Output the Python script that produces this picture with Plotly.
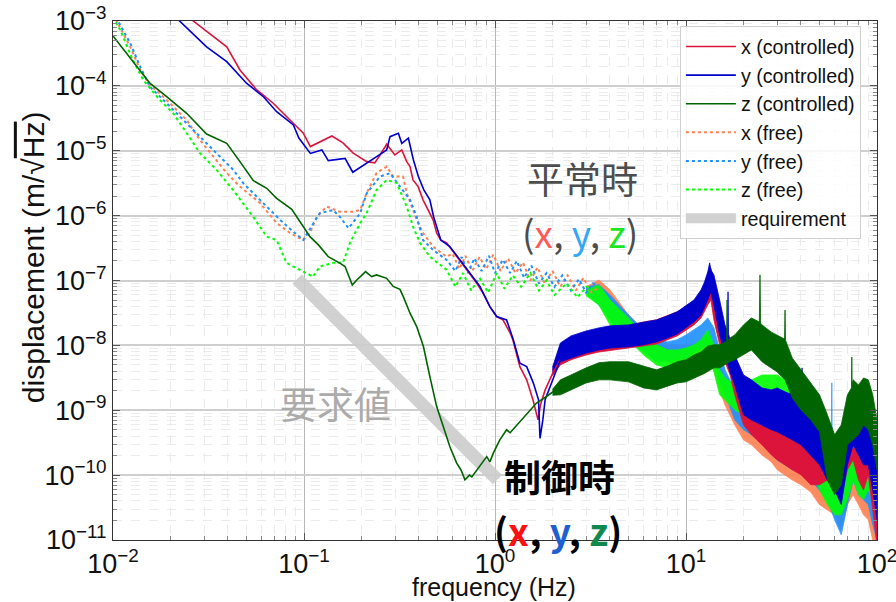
import plotly.graph_objects as go

# ---------------- data (frequency in Hz, displacement in m/sqrt(Hz)) ----------------
# controlled, x
xc_f = [0.02, 0.0263, 0.0394, 0.0462, 0.0566, 0.0688, 0.0876, 0.099, 0.108, 0.121, 0.140, 0.160,
        0.181, 0.213, 0.235, 0.25, 0.271, 0.299, 0.325, 0.345, 0.359, 0.372, 0.396, 0.42, 0.446,
        0.474, 0.495, 0.52, 0.558, 0.63, 0.71, 0.80, 0.865, 0.94, 1.02, 1.10, 1.20, 1.24, 1.35,
        1.465, 1.58, 1.68, 1.73, 1.83, 2.01, 2.19]
xc_v = [2.3e-3, 1.0e-3, 4.0e-4, 1.76e-4, 8.65e-5, 5.45e-5, 2.68e-5, 1.88e-5, 1.16e-5, 1.38e-5,
        1.69e-5, 1.32e-5, 9.2e-6, 6.8e-6, 6.5e-6, 8.6e-6, 1.26e-5, 8.6e-6, 1.03e-5, 6.8e-6, 5.7e-6,
        3.55e-6, 2.8e-6, 1.75e-6, 1.22e-6, 8.6e-7, 5.4e-7, 4.2e-7, 3.8e-7, 2.33e-7, 1.46e-7, 9.2e-8,
        6.4e-8, 3.96e-8, 2.78e-8, 2.47e-8, 1.56e-8, 1.22e-8, 4.7e-9, 2.94e-9, 1.45e-9, 7.1e-10,
        1.21e-9, 2.06e-9, 3.77e-9, 6.0e-9]
# controlled, y
yc_f = [0.0166, 0.0224, 0.0309, 0.0394, 0.050, 0.0613, 0.0719, 0.088, 0.094, 0.108, 0.124, 0.134,
        0.164, 0.180, 0.213, 0.24, 0.271, 0.282, 0.312, 0.325, 0.352, 0.374, 0.397, 0.424, 0.456,
        0.477, 0.52, 0.58, 0.656, 0.74, 0.834, 0.94, 1.02, 1.15, 1.247, 1.35, 1.465, 1.59, 1.69,
        1.72, 1.78, 1.83, 2.1, 2.25]
yc_v = [2.3e-3, 1.0e-3, 4.0e-4, 2.36e-4, 1.1e-4, 6.8e-5, 4.0e-5, 2.5e-5, 1.57e-5, 9.1e-6, 1.03e-5,
        7.05e-6, 7.6e-6, 4.66e-6, 6.55e-6, 8.1e-6, 1.03e-5, 1.65e-5, 1.86e-5, 1.3e-5, 1.56e-5,
        7.2e-6, 4.0e-6, 2.49e-6, 1.75e-6, 9.6e-7, 4.2e-7, 3.33e-7, 2.08e-7, 1.3e-7, 8.1e-8, 3.96e-8,
        2.78e-8, 2.47e-8, 1.22e-8, 5.3e-9, 4.7e-9, 2.6e-9, 1.45e-9, 3.7e-10, 7.1e-10, 1.45e-9,
        4.2e-9, 7.1e-9]
# controlled, z
zc_f = [0.01, 0.0156, 0.0191, 0.0243, 0.0309, 0.0394, 0.0462, 0.0543, 0.0638, 0.0719, 0.0863,
        0.099, 0.1075, 0.119, 0.134, 0.154, 0.164, 0.179, 0.189, 0.21, 0.226, 0.24, 0.271, 0.293,
        0.318, 0.331, 0.359, 0.389, 0.422, 0.456, 0.495, 0.536, 0.58, 0.63, 0.664, 0.696, 0.735,
        0.756, 0.834, 0.905, 0.94, 0.98, 1.06, 1.15, 1.2, 1.35, 1.47, 1.65, 1.86, 2.19]
zc_v = [5.9e-4, 1.1e-4, 6.8e-5, 3.78e-5, 1.81e-5, 1.3e-5, 6.8e-6, 3.46e-6, 2.64e-6, 1.85e-6,
        1.25e-6, 6.8e-7, 4.74e-7, 3.54e-7, 2.33e-7, 1.85e-7, 1.64e-7, 8.5e-8, 1.02e-7, 1.37e-7,
        1.15e-7, 1.22e-7, 1.08e-7, 8.1e-8, 7.3e-8, 5.65e-8, 3.13e-8, 1.95e-8, 9.6e-9, 3.3e-9,
        1.14e-9, 5.6e-10, 2.76e-10, 1.53e-10, 1.2e-10, 8.5e-11, 1.0e-10, 9.4e-11, 1.36e-10,
        1.93e-10, 1.6e-10, 2.18e-10, 3.5e-10, 5.0e-10, 4.5e-10, 6.6e-10, 9.0e-10, 1.29e-9, 1.63e-9,
        2.32e-9]
# free, x
xf_f = [0.01, 0.0123, 0.0139, 0.0156, 0.0191, 0.0243, 0.0285, 0.0334, 0.0394, 0.0462, 0.0588,
        0.0719, 0.0845, 0.099, 0.1075, 0.1166, 0.1315, 0.154, 0.181, 0.197, 0.213, 0.24, 0.271,
        0.293, 0.33, 0.345, 0.372, 0.389, 0.42, 0.474, 0.558, 0.6, 0.65, 0.7, 0.76, 0.83, 0.9,
        0.98, 1.07, 1.17, 1.28, 1.4, 1.53, 1.67, 1.82, 2.0, 2.2, 2.4, 2.65, 2.9, 3.2, 3.5]
xf_v = [1.28e-3, 4.0e-4, 1.76e-4, 1.03e-4, 6.06e-5, 2.98e-5, 1.47e-5, 8.1e-6, 4.54e-6, 2.8e-6,
        1.57e-6, 7.7e-7, 5.4e-7, 4.2e-7, 5.4e-7, 9.6e-7, 1.38e-6, 1.15e-6, 1.15e-6, 1.22e-6,
        2.24e-6, 4.54e-6, 5.7e-6, 4.0e-6, 4.0e-6, 2.24e-6, 1.22e-6, 8.6e-7, 5.4e-7, 3.33e-7,
        2.33e-7, 2.6e-7, 1.5e-7, 2.4e-7, 1.4e-7, 2.3e-7, 1.5e-7, 2.5e-7, 1.4e-7, 2.2e-7, 1.3e-7,
        1.9e-7, 1.0e-7, 1.6e-7, 9.0e-8, 1.4e-7, 8.0e-8, 1.2e-7, 7.0e-8, 1.1e-7, 6.5e-8, 8.0e-8]
# free, y
yf_f = [0.01, 0.0123, 0.0139, 0.0156, 0.0191, 0.0233, 0.0285, 0.0349, 0.0427, 0.0481, 0.0588,
        0.075, 0.088, 0.099, 0.112, 0.121, 0.142, 0.154, 0.171, 0.197, 0.213, 0.25, 0.282, 0.318,
        0.359, 0.389, 0.42, 0.474, 0.558, 0.62, 0.67, 0.72, 0.78, 0.85, 0.93, 1.0, 1.1, 1.2, 1.3,
        1.42, 1.55, 1.7, 1.86, 2.05, 2.25, 2.5, 2.75, 3.0, 3.25, 3.5]
yf_v = [1.38e-3, 4.58e-4, 1.96e-4, 9.7e-5, 5.4e-5, 2.98e-5, 1.65e-5, 9.1e-6, 5.06e-6, 3.16e-6,
        1.75e-6, 8.6e-7, 5.66e-7, 4.2e-7, 7.6e-7, 1.09e-6, 1.22e-6, 9.6e-7, 6.4e-7, 1.09e-6,
        2.21e-6, 4.0e-6, 4.5e-6, 2.8e-6, 1.75e-6, 9.65e-7, 4.2e-7, 2.96e-7, 2.08e-7, 1.4e-7,
        2.3e-7, 1.3e-7, 2.2e-7, 1.4e-7, 2.4e-7, 1.3e-7, 2.1e-7, 1.3e-7, 2.0e-7, 1.1e-7, 1.7e-7,
        9.0e-8, 1.3e-7, 8.0e-8, 1.2e-7, 7.0e-8, 1.05e-7, 6.5e-8, 9.0e-8, 8.6e-8]
# free, z
zf_f = [0.01, 0.0109, 0.0127, 0.0144, 0.0176, 0.0206, 0.0243, 0.0285, 0.0349, 0.0425, 0.0541,
        0.0638, 0.0719, 0.081, 0.095, 0.1115, 0.121, 0.142, 0.16, 0.174, 0.197, 0.213, 0.24,
        0.271, 0.306, 0.345, 0.372, 0.405, 0.456, 0.558, 0.62, 0.68, 0.75, 0.83, 0.92, 1.02, 1.12,
        1.24, 1.37, 1.53, 1.7, 1.86, 2.05, 2.37, 2.7, 3.02, 3.5]
zf_v = [1.15e-3, 7.3e-4, 2.5e-4, 1.23e-4, 6.06e-5, 3.83e-5, 1.88e-5, 9.2e-6, 5.06e-6, 2.49e-6,
        9.65e-7, 4.74e-7, 4.2e-7, 1.87e-7, 1.46e-7, 1.15e-7, 1.64e-7, 1.87e-7, 1.87e-7, 3.8e-7,
        7.7e-7, 1.1e-6, 2.49e-6, 3.55e-6, 3.19e-6, 1.38e-6, 6.8e-7, 3.8e-7, 2.33e-7, 1.46e-7,
        8.0e-8, 1.3e-7, 7.0e-8, 1.1e-7, 6.5e-8, 1.3e-7, 7.5e-8, 1.2e-7, 8.0e-8, 1.3e-7, 7.0e-8,
        1.0e-7, 6.0e-8, 9.0e-8, 5.5e-8, 8.0e-8, 6.5e-8]

# high-frequency noisy spectra: upper / lower envelopes
cb_f = [2.0, 2.2, 2.5, 3, 3.5, 4, 5, 6, 7, 8, 9, 10, 11, 12, 12.5, 13, 13.5, 14, 15, 16, 17, 18,
        20, 22, 25, 28, 30, 33, 36, 40, 45, 50, 55, 60, 65, 70, 75, 80, 85, 90, 95, 100]
xc_up = [4.2e-9, 1.02e-8, 1.3e-8, 1.56e-8, 1.73e-8, 1.86e-8, 2.0e-8, 2.3e-8, 2.47e-8, 2.85e-8,
         3.3e-8, 3.8e-8, 4.7e-8, 6.7e-8, 8.6e-8, 1.22e-7, 1.56e-7, 8.6e-8, 2.95e-8, 1.73e-8,
         1.22e-8, 6.0e-9, 2.46e-9, 1.73e-9, 1.21e-9, 8.5e-10, 7.1e-10, 5.95e-10, 5.0e-10, 4.2e-10,
         3.5e-10, 2.93e-10, 2.93e-10, 3.5e-10, 2.05e-10, 3.5e-10, 5.95e-10, 4.2e-10, 3.5e-10,
         4.2e-10, 2.05e-10, 5.9e-11]
xc_lo = [3.4e-9, 5.0e-9, 6.0e-9, 7.1e-9, 7.9e-9, 8.5e-9, 9.1e-9, 9.8e-9, 1.05e-8, 1.22e-8, 1.4e-8,
         1.73e-8, 2.07e-8, 2.65e-8, 3.3e-8, 4.2e-8, 5.0e-8, 2.47e-8, 1.02e-8, 5.6e-9, 3.5e-9,
         1.73e-9, 5.95e-10, 4.2e-10, 2.93e-10, 2.05e-10, 1.72e-10, 1.44e-10, 1.21e-10, 1.01e-10,
         7.1e-11, 7.1e-11, 8.4e-11, 7.1e-11, 4.97e-11, 1.21e-10, 1.72e-10, 8.4e-11, 5.9e-11,
         1.01e-10, 2.92e-11, 8.4e-12]
yc_up_f = [2.0, 2.2, 2.5, 3, 3.5, 4, 5, 6, 7, 8, 9, 10, 11, 12, 12.5, 13, 13.3, 13.5, 14, 15, 16,
           16.5, 16.6, 16.7, 17, 18, 20, 22, 25, 28, 30, 33, 36, 40, 40.5, 41, 45, 50, 55, 60,
           65, 70, 75, 80, 85, 90, 95, 100]
yc_up = [4.6e-9, 1.09e-8, 1.4e-8, 1.67e-8, 1.86e-8, 2.0e-8, 2.07e-8, 2.3e-8, 2.47e-8, 2.85e-8,
         3.3e-8, 4.1e-8, 5.0e-8, 7.2e-8, 9.5e-8, 1.36e-7, 1.87e-7, 1.46e-7, 1.22e-7, 5.0e-8,
         2.07e-8, 1.6e-8, 6.7e-8, 1.5e-8, 1.22e-8, 7.1e-9, 3.5e-9, 2.94e-9, 2.21e-9, 2.06e-9,
         2.21e-9, 1.92e-9, 1.73e-9, 1.45e-9, 4.5e-9, 1.4e-9, 1.01e-9, 7.1e-10, 5.0e-10, 3.5e-10,
         1.72e-10, 5.0e-10, 8.5e-10, 7.1e-10, 5.95e-10, 5.95e-10, 3.5e-10, 2.05e-10]
yc_lo = [3.6e-9, 5.6e-9, 6.4e-9, 7.6e-9, 8.5e-9, 9.1e-9, 9.5e-9, 1.02e-8, 1.13e-8, 1.3e-8, 1.5e-8,
         1.86e-8, 2.3e-8, 2.95e-8, 3.8e-8, 5.0e-8, 6.7e-8, 4.2e-8, 1.45e-8, 7.1e-9, 3.9e-9,
         2.46e-9, 8.5e-10, 7.1e-10, 5.95e-10, 5.0e-10, 4.65e-10, 4.0e-10, 3.5e-10, 2.93e-10,
         2.05e-10, 1.44e-10, 8.4e-11, 5.9e-11, 3.5e-11, 1.44e-10, 2.93e-10, 2.05e-10, 1.44e-10,
         1.44e-10, 5.9e-11, 2.05e-11]
zc_up_f = [2.0, 2.2, 2.5, 3, 3.5, 4, 5, 6, 7, 8, 9, 10, 11, 12, 13, 14, 15, 16, 16.3, 16.4, 16.5,
           17, 18, 20, 22, 24.2, 24.4, 24.6, 25, 28, 30, 32.8, 33, 33.2, 36, 40, 45, 50, 55, 60,
           65, 70, 73.5, 73.8, 74.1, 75, 80, 85, 90, 95, 100]
zc_up = [2.1e-9, 2.94e-9, 3.5e-9, 4.5e-9, 5.4e-9, 5.6e-9, 5.6e-9, 4.8e-9, 4.2e-9, 4.8e-9, 5.6e-9,
         6.0e-9, 7.1e-9, 7.9e-9, 9.8e-9, 1.02e-8, 1.02e-8, 1.13e-8, 1.15e-8, 5.0e-8, 1.18e-8,
         1.3e-8, 1.45e-8, 2.07e-8, 2.65e-8, 2.3e-8, 1.22e-7, 2.2e-8, 2.07e-8, 1.6e-8, 1.45e-8,
         1.25e-8, 3.5e-8, 1.2e-8, 6.4e-9, 4.2e-9, 2.64e-9, 1.73e-9, 8.5e-10, 4.2e-10, 5.95e-10,
         1.73e-9, 2.2e-9, 6.6e-9, 2.5e-9, 2.94e-9, 2.46e-9, 3.15e-9, 2.94e-9, 1.73e-9, 7.1e-10]
zc_lo = [1.7e-9, 1.73e-9, 2.06e-9, 2.64e-9, 2.94e-9, 2.94e-9, 2.74e-9, 2.21e-9, 2.06e-9, 2.38e-9,
         2.64e-9, 2.74e-9, 3.15e-9, 3.5e-9, 3.7e-9, 3.9e-9, 4.2e-9, 4.5e-9, 4.5e-9, 5.0e-9, 5.6e-9,
         6.0e-9, 7.1e-9, 8.5e-9, 5.6e-9, 4.5e-9, 3.9e-9, 2.94e-9, 1.55e-9, 1.01e-9, 7.1e-10,
         4.65e-10, 8.4e-11, 4.97e-11, 7.1e-11, 2.93e-10, 3.5e-10, 4.2e-10, 5.95e-10, 5.0e-10,
         2.93e-10, 1.21e-10]

fb_f = [3.0, 3.5, 4, 5, 6, 7, 8, 9, 10, 11, 12, 13, 14, 15, 16, 18, 20, 22, 25, 28, 30, 33, 36,
        40, 45, 50, 55, 60, 65, 70, 75, 80, 85, 90, 95, 100]
xf_up = [8.0e-8, 1.02e-7, 7.2e-8, 2.95e-8, 1.73e-8, 1.22e-8, 1.02e-8, 1.02e-8, 1.02e-8, 1.02e-8,
         1.22e-8, 1.45e-8, 1.02e-8, 5.0e-9, 2.94e-9, 1.73e-9, 1.01e-9, 8.5e-10, 7.1e-10, 5.0e-10,
         3.5e-10, 2.93e-10, 2.45e-10, 2.05e-10, 1.72e-10, 1.21e-10, 1.01e-10, 8.4e-11, 5.9e-11,
         1.21e-10, 2.45e-10, 1.72e-10, 1.21e-10, 1.21e-10, 5.9e-11, 2.92e-11]
xf_lo = [6.5e-8, 5.0e-8, 2.95e-8, 1.45e-8, 8.5e-9, 6.0e-9, 5.6e-9, 5.0e-9, 5.0e-9, 5.6e-9, 6.4e-9,
         7.1e-9, 4.2e-9, 2.06e-9, 1.21e-9, 5.95e-10, 3.5e-10, 2.93e-10, 2.05e-10, 1.6e-10,
         1.21e-10, 1.01e-10, 8.4e-11, 7.1e-11, 5.5e-11, 3.5e-11, 2.92e-11, 2.44e-11, 1.44e-11,
         3.5e-11, 4.97e-11, 3.5e-11, 2.44e-11, 2.05e-11, 1.0e-11, 8.4e-12]
yf_up_f = [3.0, 3.5, 4, 5, 6, 7, 8, 9, 10, 11, 12, 13, 14, 15, 16, 18, 20, 22, 25, 28, 30, 33, 36,
           40, 45, 50, 55, 57.6, 58, 58.4, 60, 65, 70, 75, 80, 85, 90, 95, 100]
yf_up = [8.0e-8, 8.6e-8, 6.0e-8, 2.95e-8, 1.73e-8, 1.22e-8, 1.13e-8, 1.22e-8, 1.45e-8, 1.73e-8,
         2.07e-8, 2.65e-8, 1.86e-8, 8.5e-9, 4.2e-9, 2.06e-9, 1.45e-9, 1.21e-9, 1.21e-9, 7.1e-10,
         5.0e-10, 4.2e-10, 3.5e-10, 3.5e-10, 2.45e-10, 2.05e-10, 1.44e-10, 1.1e-10, 2.64e-9,
         1.0e-10, 8.4e-11, 4.97e-11, 1.21e-10, 3.5e-10, 2.45e-10, 2.05e-10, 1.72e-10, 8.4e-11,
         4.2e-11]
yf_lo = [6.5e-8, 4.2e-8, 2.47e-8, 1.22e-8, 7.9e-9, 5.6e-9, 5.6e-9, 6.0e-9, 6.4e-9, 7.9e-9, 9.1e-9,
         1.02e-8, 7.1e-9, 2.94e-9, 1.73e-9, 7.1e-10, 5.0e-10, 4.2e-10, 3.5e-10, 2.45e-10,
         1.72e-10, 1.44e-10, 1.21e-10, 1.21e-10, 8.4e-11, 5.9e-11, 4.2e-11, 2.05e-11, 1.2e-11,
         3.5e-11, 8.4e-11, 4.97e-11, 4.2e-11, 3.5e-11, 1.72e-11, 1.0e-11]
zf_up = [7.0e-8, 8.6e-8, 5.0e-8, 2.65e-8, 1.45e-8, 1.02e-8, 8.5e-9, 8.5e-9, 9.1e-9, 1.02e-8,
         1.22e-8, 1.73e-8, 1.02e-8, 4.2e-9, 3.15e-9, 2.46e-9, 2.46e-9, 2.94e-9, 3.5e-9, 3.5e-9,
         3.5e-9, 2.94e-9, 2.06e-9, 1.45e-9, 7.1e-10, 2.45e-10, 1.21e-10, 8.4e-11, 8.4e-11,
         1.72e-10, 3.5e-10, 2.45e-10, 2.05e-10, 2.93e-10, 2.05e-10, 1.21e-10]
zf_lo = [5.8e-8, 4.2e-8, 2.07e-8, 1.22e-8, 7.1e-9, 5.0e-9, 4.5e-9, 4.5e-9, 4.5e-9, 5.0e-9, 5.6e-9,
         7.1e-9, 3.9e-9, 1.73e-9, 1.45e-9, 1.01e-9, 8.5e-10, 1.01e-9, 1.21e-9, 1.45e-9, 1.21e-9,
         8.5e-10, 5.95e-10, 3.5e-10, 1.72e-10, 5.9e-11, 3.5e-11, 2.44e-11, 2.44e-11, 4.2e-11,
         8.4e-11, 4.97e-11, 4.2e-11, 5.9e-11, 4.2e-11, 2.44e-11]

# requirement
req_f = [0.092, 1.03]
req_v = [1.05e-7, 8.5e-11]

x_ticks = [0.01, 0.1, 1, 10, 100]
x_ticktext = ["10<sup>−2</sup>", "10<sup>−1</sup>", "10<sup>0</sup>", "10<sup>1</sup>", "10<sup>2</sup>"]
y_ticks = [1e-11, 1e-10, 1e-9, 1e-8, 1e-7, 1e-6, 1e-5, 1e-4, 1e-3]
y_ticktext = ["10<sup>−11</sup>", "10<sup>−10</sup>", "10<sup>−9</sup>", "10<sup>−8</sup>",
              "10<sup>−7</sup>", "10<sup>−6</sup>", "10<sup>−5</sup>", "10<sup>−4</sup>",
              "10<sup>−3</sup>"]

# ---------------- figure ----------------
C_X, C_Y, C_Z = "#DC143C", "#0000CD", "#006400"
F_X, F_Y, F_Z = "#FF7F50", "#1E90FF", "#00FF00"
FONT = "Liberation Sans, Arial, sans-serif"
CJK = "Noto Sans CJK JP, sans-serif"

fig = go.Figure()


def band(fu, vu, fl, vl, color, opacity=1.0):
    fig.add_trace(go.Scatter(
        x=list(fu) + list(fl)[::-1], y=list(vu) + list(vl)[::-1],
        mode="lines", fill="toself", fillcolor=color, opacity=opacity,
        line=dict(color=color, width=0.8), showlegend=False, hoverinfo="skip"))


fig.add_trace(go.Scatter(x=req_f, y=req_v, mode="lines", name="requirement",
                         line=dict(color="rgba(204,204,204,0.9)", width=13), legendrank=7))

band(fb_f, xf_up, fb_f, xf_lo, F_X, 0.9)
band(yf_up_f, yf_up, fb_f, yf_lo, F_Y, 0.9)
band(fb_f, zf_up, fb_f, zf_lo, F_Z, 0.9)

fig.add_trace(go.Scatter(x=xf_f, y=xf_v, mode="lines", name="x (free)", legendrank=4,
                         line=dict(color=F_X, width=2, dash="dot")))
fig.add_trace(go.Scatter(x=yf_f, y=yf_v, mode="lines", name="y (free)", legendrank=5,
                         line=dict(color=F_Y, width=2, dash="dot")))
fig.add_trace(go.Scatter(x=zf_f, y=zf_v, mode="lines", name="z (free)", legendrank=6,
                         line=dict(color=F_Z, width=2, dash="dot")))

band(cb_f, xc_up, cb_f, xc_lo, C_X)
band(yc_up_f, yc_up, cb_f, yc_lo, C_Y)
band(zc_up_f, zc_up, cb_f, zc_lo, C_Z)

fig.add_trace(go.Scatter(x=xc_f, y=xc_v, mode="lines", name="x (controlled)", legendrank=1,
                         line=dict(color=C_X, width=1.6)))
fig.add_trace(go.Scatter(x=yc_f, y=yc_v, mode="lines", name="y (controlled)", legendrank=2,
                         line=dict(color=C_Y, width=1.6)))
fig.add_trace(go.Scatter(x=zc_f, y=zc_v, mode="lines", name="z (controlled)", legendrank=3,
                         line=dict(color=C_Z, width=1.6)))

axis_common = dict(
    type="log", showgrid=True, automargin=False,
    ticks="inside", ticklen=7, tickcolor="#555", showline=True, linecolor="#333", linewidth=1,
    mirror="allticks", zeroline=False, tickmode="array", ticklabeloverflow="allow",
    tickfont=dict(family=FONT, size=27, color="#111"),
    minor=dict(dtick="D1", showgrid=True, gridcolor="#ebebeb", griddash="dash", gridwidth=1,
               ticks="inside", ticklen=4, tickcolor="#888"),
)

fig.update_layout(
    width=896, height=602,
    margin=dict(l=113, r=19, t=21, b=62, autoexpand=False),
    paper_bgcolor="white", plot_bgcolor="white",
    font=dict(family=FONT, color="#111"),
    hovermode=False,
    xaxis=dict(range=[-2, 2], tickvals=x_ticks, ticktext=x_ticktext,
               gridcolor="#b8b8b8", gridwidth=1.3, **axis_common),
    yaxis=dict(range=[-11, -3], tickvals=y_ticks, ticktext=y_ticktext,
               gridcolor="#cfcfcf", gridwidth=2, **axis_common),
    legend=dict(x=0.742, y=0.99, xanchor="left", yanchor="top", itemwidth=50,
                bgcolor="rgba(255,255,255,0.85)", bordercolor="#d0d0d0", borderwidth=1,
                font=dict(family=FONT, size=19.7, color="#111")),
    annotations=[
        dict(text="frequency (Hz)", xref="paper", yref="paper", x=0.4987, y=-0.0905,
             showarrow=False, xanchor="center", yanchor="middle",
             font=dict(family=FONT, size=25, color="#111")),
        dict(text="displacement (m/√<span style=\"text-decoration:overline\">Hz</span>)",
             xref="paper", yref="paper", x=-0.1047, y=0.545, textangle=-90, showarrow=False,
             xanchor="center", yanchor="middle", font=dict(family=FONT, size=30, color="#111")),
        dict(text="平常時", xref="paper", yref="paper", x=0.614, y=0.697, showarrow=False,
             xanchor="center", yanchor="middle",
             font=dict(family=CJK, size=37, color="#4d4d4d")),
        dict(text='(<span style="color:#FF5A5A">x</span>, <span style="color:#33A6F5">y</span>, '
                  '<span style="color:#1EE61E">z</span>)',
             xref="paper", yref="paper", x=0.611, y=0.593, showarrow=False,
             xanchor="center", yanchor="middle",
             font=dict(family=CJK, size=37, color="#4d4d4d")),
        dict(text="要求値", xref="paper", yref="paper", x=0.2906, y=0.264, showarrow=False,
             xanchor="center", yanchor="middle",
             font=dict(family=CJK, size=37, color="#ababab")),
        dict(text="<b>制御時</b>", xref="paper", yref="paper", x=0.585, y=0.123, showarrow=False,
             xanchor="center", yanchor="middle",
             font=dict(family=CJK, size=37, color="#000000")),
        dict(text='<b>(<span style="color:#FF1010">x</span>, <span style="color:#1F5FCE">y</span>, '
                  '<span style="color:#0E8A4E">z</span>)</b>',
             xref="paper", yref="paper", x=0.582, y=0.019, showarrow=False,
             xanchor="center", yanchor="middle",
             font=dict(family=CJK, size=37, color="#000000")),
    ],
)

fig.write_html("out.html")
